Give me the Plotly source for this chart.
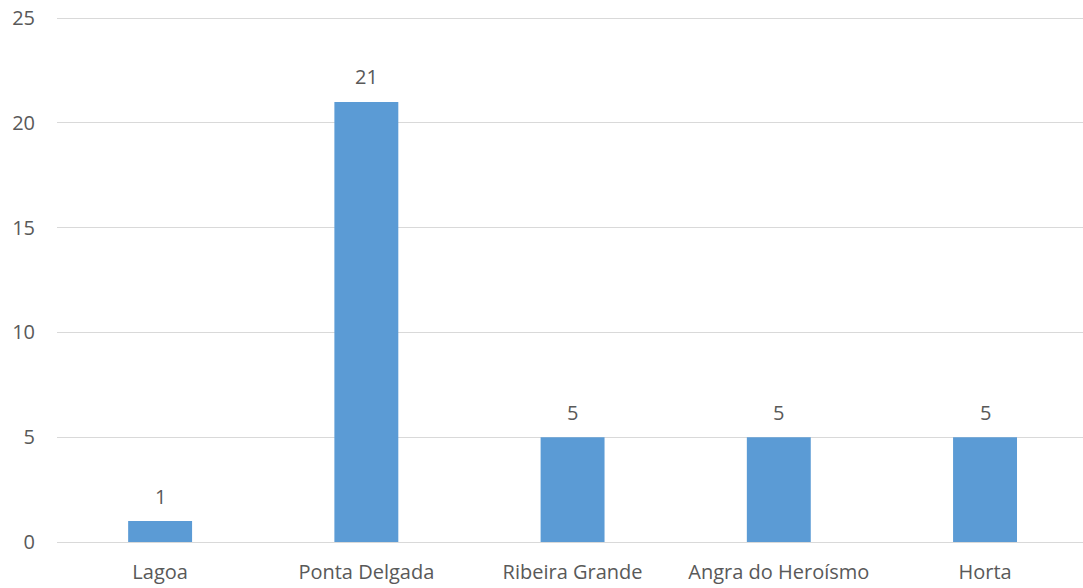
import plotly.graph_objects as go

categories = ["Lagoa", "Ponta Delgada", "Ribeira Grande", "Angra do Heroísmo", "Horta"]
values = [1, 21, 5, 5, 5]

text_color = "#595959"
font_family = "Open Sans"
font_size = 20

fig = go.Figure()

fig.add_trace(go.Bar(
    x=categories,
    y=values,
    marker=dict(color="#5b9bd5", line=dict(width=0)),
    width=0.31,
))

# data labels above the bars
for cat, val in zip(categories, values):
    fig.add_annotation(
        x=cat, y=val, text=str(val),
        showarrow=False, yanchor="middle", yshift=25,
        font=dict(size=font_size, color=text_color, family=font_family),
    )

fig.update_layout(
    width=1083,
    height=588,
    margin=dict(l=57, r=0, t=16, b=46),
    plot_bgcolor="white",
    paper_bgcolor="white",
    showlegend=False,
    font=dict(family=font_family, size=font_size, color=text_color),
    xaxis=dict(
        range=[-0.5, 4.475],
        showgrid=False,
        showline=False,
        zeroline=False,
        ticks="",
        ticklabelstandoff=16,
        automargin=False,
        tickfont=dict(size=font_size, color=text_color),
    ),
    yaxis=dict(
        range=[0, 25.1],
        tickvals=[0, 5, 10, 15, 20, 25],
        showgrid=True,
        gridcolor="#d9d9d9",
        gridwidth=1,
        zeroline=True,
        zerolinecolor="#d9d9d9",
        zerolinewidth=1,
        showline=False,
        ticks="",
        ticklabelstandoff=21,
        ticklabeloverflow="allow",
        automargin=False,
        tickfont=dict(size=font_size, color=text_color),
    ),
)

# drop the default 8px body margin so the figure fills the window exactly
fig.write_html(
    "out.html",
    config={"displayModeBar": False},
    post_script="document.body.style.margin = '0';",
)
